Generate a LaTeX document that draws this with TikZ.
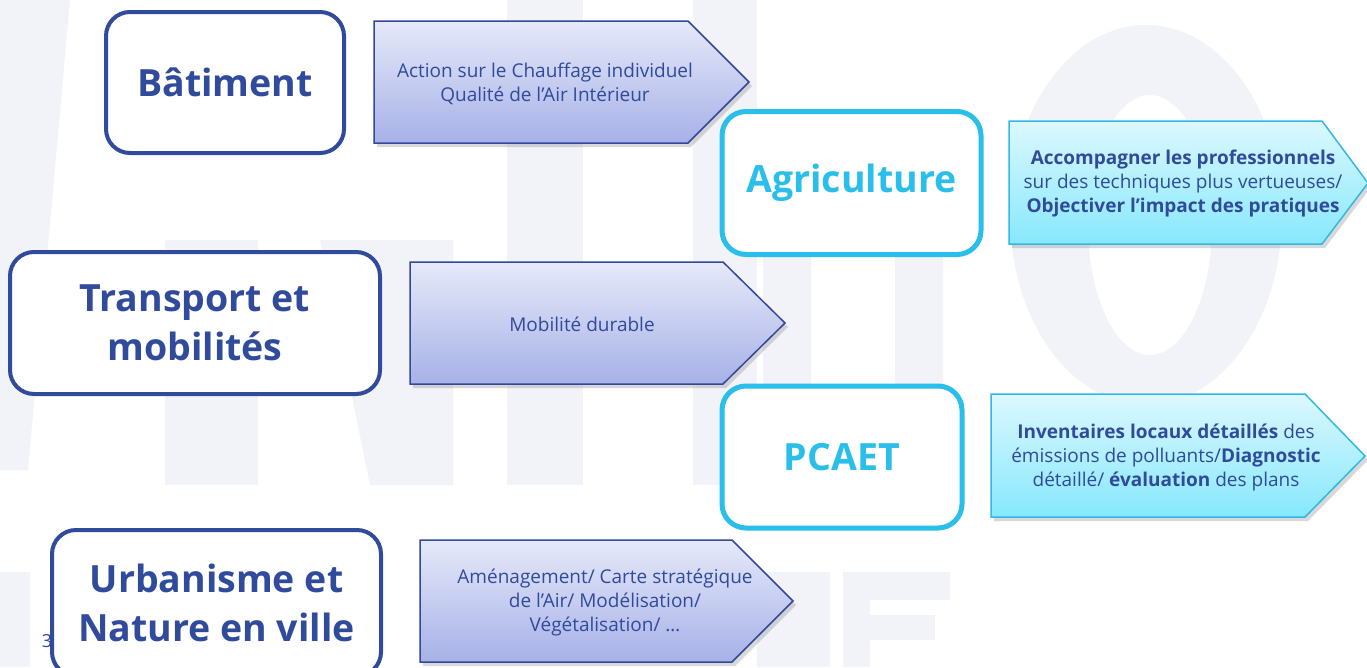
\documentclass[tikz,border=0pt]{standalone}
\usepackage{fontspec}
\setmainfont{Open Sans}
\usetikzlibrary{shadows}
\definecolor{dblue}{RGB}{48,74,156}
\definecolor{cyanb}{RGB}{41,191,234}
\definecolor{atop}{RGB}{230,233,249}
\definecolor{abot}{RGB}{166,177,231}
\definecolor{aedge}{RGB}{52,72,155}
\definecolor{ctop}{RGB}{220,248,254}
\definecolor{cbot}{RGB}{134,232,252}
\definecolor{cedge}{RGB}{50,184,228}
\definecolor{wm}{RGB}{242,243,249}
\tikzset{
  hbox/.style={draw=dblue, line width=4pt, rounded corners=24pt, fill=white, text=dblue,
    font=\bfseries\fontsize{37.5}{49}\selectfont, align=center, inner sep=0pt},
  cbox/.style={hbox, draw=cyanb, line width=5pt, text=cyanb},
  barrow/.style={draw=aedge, line width=1.5pt, top color=atop, bottom color=abot,
    drop shadow={opacity=0.3, shadow xshift=3pt, shadow yshift=-4pt}},
  carrow/.style={draw=cedge, line width=1.5pt, top color=ctop, bottom color=cbot,
    drop shadow={opacity=0.3, shadow xshift=3pt, shadow yshift=-4pt}},
  atext/.style={text=dblue, align=center, font=\fontsize{19}{24}\selectfont, inner sep=0pt},
}
\begin{document}
\begin{tikzpicture}[x=1pt,y=-1pt]
\useasboundingbox (0,0) rectangle (1367,667);
\fill[white] (0,0) rectangle (1367,667);
% faint watermark
\fill[wm] (0,0) -- (70,0) -- (28,470) -- (0,470) -- cycle;
\fill[wm] (165,240) rectangle (258,485);
\fill[wm] (320,240) -- (453,240) -- (453,485) -- (370,485) -- cycle;
\fill[wm] (507,0) rectangle (583,485);
\fill[wm] (693,0) rectangle (757,485);
\fill[wm, even odd rule] (1146,215) ellipse [x radius=136, y radius=190]
   (1150,225) ellipse [x radius=62, y radius=130];
\fill[wm] (763,485) -- (763,110) arc[start angle=180, end angle=0, x radius=90, y radius=85] -- (943,485) -- (895,485) -- (895,120) arc[start angle=0, end angle=180, x radius=42, y radius=40] -- (811,485) -- cycle;
\fill[wm] (0,572) rectangle (30,667);
\fill[wm] (757,572) rectangle (830,667);
\fill[wm] (843,572) rectangle (950,600);
\fill[wm] (843,572) rectangle (870,667);
\fill[wm] (843,615) rectangle (935,640);
% page number
\node[text=dblue, font=\fontsize{18}{20}\selectfont, inner sep=0pt] (pnum) at (47,641) {3};
% arrows
\path[barrow] (374,21) -- (688,21) -- (749,82) -- (688,143) -- (374,143) -- cycle;
\path[barrow] (410,262) -- (723,262) -- (785,323) -- (723,384) -- (410,384) -- cycle;
\path[barrow] (420,540) -- (732,540) -- (793,601) -- (732,662) -- (420,662) -- cycle;
\path[carrow] (1009,121) -- (1322,121) -- (1368,183) -- (1322,244) -- (1009,244) -- cycle;
\path[carrow] (991,394) -- (1305,394) -- (1365,456) -- (1305,517) -- (991,517) -- cycle;
% arrow texts
\node[atext] (t1) at (545,84) {Action sur le Chauffage individuel\\Qualité de l’Air Intérieur};
\node[atext] (t2) at (582,324) {Mobilité durable};
\node[atext] (t3) at (605,602) {Aménagement/ Carte stratégique\\de l’Air/ Modélisation/\\Végétalisation/ …};
\node[atext] (t4) at (1183,184) {\textbf{Accompagner les professionnels}\\sur des techniques plus vertueuses/\\\textbf{Objectiver l’impact des pratiques}};
\node[atext] (t5) at (1166,457) {\textbf{Inventaires locaux détaillés} des\\émissions de polluants/\textbf{Diagnostic}\\détaillé/ \textbf{évaluation} des plans};
% heading boxes
\node[hbox, minimum width=238pt, minimum height=141pt] (bat) at (225,82.5) {Bâtiment};
\node[hbox, minimum width=370pt, minimum height=142pt] (trans) at (195,323) {Transport et\\mobilités};
\node[hbox, minimum width=329pt, minimum height=146pt] (urb) at (216.5,603) {Urbanisme et\\Nature en ville};
\node[cbox, minimum width=259pt, minimum height=143pt] (agri) at (851.5,183) {Agriculture};
\node[cbox, minimum width=240pt, minimum height=142pt] (pcaet) at (842,457) {PCAET};
\end{tikzpicture}
\end{document}
